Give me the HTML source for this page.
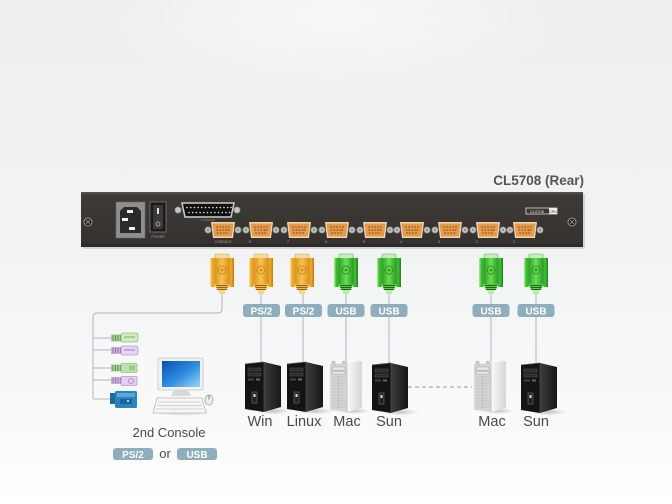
<!DOCTYPE html>
<html><head><meta charset="utf-8"><style>
html,body{margin:0;padding:0;background:#fff;}
svg{display:block;}
text{font-family:"Liberation Sans",sans-serif;}
</style></head><body>
<svg width="672" height="504" viewBox="0 0 672 504" xmlns="http://www.w3.org/2000/svg">
<defs>
  <linearGradient id="bg" x1="0" y1="0" x2="0" y2="1">
    <stop offset="0" stop-color="#eceef0"/>
    <stop offset="0.5" stop-color="#f2f3f4"/>
    <stop offset="0.8" stop-color="#f9f9fa"/>
    <stop offset="1" stop-color="#ffffff"/>
  </linearGradient>
  <radialGradient id="glow" cx="0.5" cy="0.1" r="0.5">
    <stop offset="0" stop-color="#f6f7f8"/>
    <stop offset="1" stop-color="#f6f7f8" stop-opacity="0"/>
  </radialGradient>
  <linearGradient id="panel" x1="0" y1="0" x2="0" y2="1">
    <stop offset="0" stop-color="#5a5654"/>
    <stop offset="0.06" stop-color="#3e3a38"/>
    <stop offset="0.9" stop-color="#363230"/>
    <stop offset="1" stop-color="#2a2725"/>
  </linearGradient>
  <linearGradient id="og" x1="0" y1="0" x2="1" y2="0">
    <stop offset="0" stop-color="#d9931d"/>
    <stop offset="0.5" stop-color="#f7c450"/>
    <stop offset="1" stop-color="#d58e1a"/>
  </linearGradient>
  <linearGradient id="gg" x1="0" y1="0" x2="1" y2="0">
    <stop offset="0" stop-color="#2c9e26"/>
    <stop offset="0.5" stop-color="#6bdc55"/>
    <stop offset="1" stop-color="#2a9a24"/>
  </linearGradient>
  <linearGradient id="side" x1="0" y1="0" x2="1" y2="0">
    <stop offset="0" stop-color="#3c3c3c"/>
    <stop offset="1" stop-color="#161616"/>
  </linearGradient>
  <linearGradient id="macside" x1="0" y1="0" x2="1" y2="0">
    <stop offset="0" stop-color="#fafafa"/>
    <stop offset="1" stop-color="#d6d6d6"/>
  </linearGradient>
  <linearGradient id="scr" x1="0" y1="0" x2="1" y2="1">
    <stop offset="0" stop-color="#0b4fb5"/>
    <stop offset="0.55" stop-color="#2f8fe0"/>
    <stop offset="1" stop-color="#9ad6f6"/>
  </linearGradient>
  <radialGradient id="shad" cx="0.5" cy="0.5" r="0.5">
    <stop offset="0" stop-color="#000" stop-opacity="0.22"/>
    <stop offset="1" stop-color="#000" stop-opacity="0"/>
  </radialGradient>

  <!-- orange connector -->
  <g id="conO">
    <rect x="-7" y="0" width="14" height="5" rx="1" fill="#f5dc9a" stroke="#d8a440" stroke-width="0.6"/>
    <rect x="-12" y="4" width="5" height="29" rx="1.5" fill="#e8a52c"/>
    <rect x="7" y="4" width="5" height="29" rx="1.5" fill="#e8a52c"/>
    <rect x="-12" y="4" width="1.5" height="29" fill="#f9d680"/>
    <rect x="10.5" y="4" width="1.5" height="29" fill="#c98312"/>
    <rect x="-7.5" y="4" width="15" height="26" fill="url(#og)"/>
    <circle cx="0" cy="16" r="4" fill="none" stroke="#d48a18" stroke-width="1"/>
    <circle cx="0" cy="16" r="1.3" fill="#d48a18"/>
    <polygon points="-7.5,30 7.5,30 5,36 -5,36" fill="#f2bb45"/>
    <line x1="-6" y1="31.5" x2="6" y2="31.5" stroke="#8a5a10" stroke-width="0.9"/>
    <line x1="-5.5" y1="33.5" x2="5.5" y2="33.5" stroke="#8a5a10" stroke-width="0.9"/>
    <line x1="-5" y1="35.5" x2="5" y2="35.5" stroke="#8a5a10" stroke-width="0.9"/>
    <rect x="-3" y="36" width="6" height="4" fill="#f5d690"/>
  </g>
  <!-- green connector -->
  <g id="conG">
    <rect x="-7" y="0" width="14" height="5" rx="1" fill="#c6efb5" stroke="#5cb84a" stroke-width="0.6"/>
    <rect x="-12" y="4" width="5" height="29" rx="1.5" fill="#3cb832"/>
    <rect x="7" y="4" width="5" height="29" rx="1.5" fill="#3cb832"/>
    <rect x="-12" y="4" width="1.5" height="29" fill="#8fe878"/>
    <rect x="10.5" y="4" width="1.5" height="29" fill="#228a1e"/>
    <rect x="-7.5" y="4" width="15" height="26" fill="url(#gg)"/>
    <circle cx="0" cy="16" r="4" fill="none" stroke="#2a9a24" stroke-width="1"/>
    <circle cx="0" cy="16" r="1.3" fill="#2a9a24"/>
    <polygon points="-7.5,30 7.5,30 5,36 -5,36" fill="#55cc44"/>
    <line x1="-6" y1="31.5" x2="6" y2="31.5" stroke="#1a5a14" stroke-width="0.9"/>
    <line x1="-5.5" y1="33.5" x2="5.5" y2="33.5" stroke="#1a5a14" stroke-width="0.9"/>
    <line x1="-5" y1="35.5" x2="5" y2="35.5" stroke="#1a5a14" stroke-width="0.9"/>
    <rect x="-3" y="36" width="6" height="4" fill="#b8eca8"/>
  </g>

  <!-- VGA port on panel -->
  <g id="port">
    <circle cx="-15" cy="7" r="3.2" fill="#c4c4c4" stroke="#7a7a7a" stroke-width="0.7"/>
    <circle cx="-15" cy="7" r="1.2" fill="#8a8a8a"/>
    <circle cx="15" cy="7" r="3.2" fill="#c4c4c4" stroke="#7a7a7a" stroke-width="0.7"/>
    <circle cx="15" cy="7" r="1.2" fill="#8a8a8a"/>
    <polygon points="-12,-1 12,-1 10,15 -10,15" fill="#f0d6ac"/>
    <polygon points="-10.5,0.5 10.5,0.5 8.8,13.5 -8.8,13.5" fill="#e29a4c"/>
    <g fill="#a75c18">
      <circle cx="-6" cy="4" r="0.9"/><circle cx="-3" cy="4" r="0.9"/><circle cx="0" cy="4" r="0.9"/><circle cx="3" cy="4" r="0.9"/><circle cx="6" cy="4" r="0.9"/>
      <circle cx="-5.5" cy="7" r="0.9"/><circle cx="-2.5" cy="7" r="0.9"/><circle cx="0.5" cy="7" r="0.9"/><circle cx="3.5" cy="7" r="0.9"/><circle cx="5.5" cy="7" r="0.9"/>
      <circle cx="-5" cy="10" r="0.9"/><circle cx="-2" cy="10" r="0.9"/><circle cx="1" cy="10" r="0.9"/><circle cx="4" cy="10" r="0.9"/>
    </g>
  </g>

  <!-- black tower -->
  <g id="tb">
    <ellipse cx="28" cy="50" rx="18" ry="3.5" fill="url(#shad)"/>
    <polygon points="19,1 36,5 36,46 19,51" fill="url(#side)"/>
    <polygon points="0,3 19,1 19,51 0,48" fill="#141414"/>
    <line x1="19" y1="1" x2="19" y2="51" stroke="#4a4a4a" stroke-width="0.8"/>
    <line x1="0" y1="3" x2="19" y2="1" stroke="#555" stroke-width="0.8"/>
    <rect x="3" y="7" width="13" height="3" fill="#2a2a2a" stroke="#5a5a5a" stroke-width="0.5"/>
    <rect x="3" y="12" width="13" height="3" fill="#2a2a2a" stroke="#5a5a5a" stroke-width="0.5"/>
    <rect x="3" y="17.5" width="6" height="2" fill="#444"/>
    <rect x="11" y="17.5" width="4" height="2" fill="#666"/>
    <rect x="7" y="31" width="5" height="11" fill="#222" stroke="#666" stroke-width="0.7"/>
    <rect x="8.5" y="33" width="2" height="3" fill="#ddd"/>
  </g>
  <!-- silver mac tower -->
  <g id="tm">
    <ellipse cx="24" cy="50" rx="16" ry="3" fill="url(#shad)"/>
    <polygon points="17,2 32,0 32,47 17,51" fill="url(#macside)"/>
    <polygon points="0,3 17,2 17,51 0,49" fill="#d6d6d6"/>
    <rect x="1.5" y="0" width="4" height="4" fill="#c8c8c8"/>
    <rect x="12" y="0" width="4" height="3" fill="#c8c8c8"/>
    <rect x="2" y="6" width="13" height="3" fill="#efefef" stroke="#9a9a9a" stroke-width="0.5"/>
    <rect x="2" y="10.5" width="13" height="2.5" fill="#efefef" stroke="#9a9a9a" stroke-width="0.5"/>
    <g stroke="#b4b4b4" stroke-width="0.6">
      <line x1="2" y1="16" x2="15" y2="16"/><line x1="2" y1="19" x2="15" y2="19"/>
      <line x1="2" y1="22" x2="15" y2="22"/><line x1="2" y1="25" x2="15" y2="25"/>
      <line x1="2" y1="28" x2="15" y2="28"/><line x1="2" y1="31" x2="15" y2="31"/>
      <line x1="2" y1="34" x2="15" y2="34"/><line x1="2" y1="37" x2="15" y2="37"/>
      <line x1="2" y1="40" x2="15" y2="40"/><line x1="2" y1="43" x2="15" y2="43"/>
      <line x1="2" y1="46" x2="15" y2="46"/>
      <line x1="8.5" y1="15" x2="8.5" y2="48"/>
    </g>
    <line x1="17" y1="2" x2="17" y2="51" stroke="#aaa" stroke-width="0.6"/>
  </g>
</defs>

<!-- background -->
<rect x="0" y="0" width="672" height="504" fill="url(#bg)"/>
<rect x="100" y="0" width="470" height="160" fill="url(#glow)"/>

<!-- title -->
<text x="584" y="185" font-size="13.5" font-weight="bold" fill="#555" text-anchor="end">CL5708 (Rear)</text>

<!-- panel -->
<rect x="83" y="194" width="502" height="55" fill="#000" opacity="0.12"/>
<rect x="81" y="192" width="502" height="55" fill="url(#panel)"/>
<!-- screws -->
<circle cx="88" cy="222" r="4" fill="#1c1c1c" stroke="#9a9a9a" stroke-width="1"/>
<path d="M86 220 L90 224 M90 220 L86 224" stroke="#aaa" stroke-width="0.8"/>
<circle cx="572" cy="222" r="4" fill="#1c1c1c" stroke="#9a9a9a" stroke-width="1"/>
<path d="M570 220 L574 224 M574 220 L570 224" stroke="#aaa" stroke-width="0.8"/>
<!-- power inlet -->
<rect x="116" y="202" width="29" height="36" fill="#8e8e8e" stroke="#6a6a6a" stroke-width="0.6"/>
<polygon points="124,207 137,207 141,211 141,233 120,233 120,211" fill="#2a2a2a"/>
<rect x="127" y="210" width="6" height="3" fill="#f0f0f0"/>
<rect x="122" y="218" width="6" height="3" fill="#f0f0f0"/>
<rect x="129" y="227" width="6" height="3" fill="#f0f0f0"/>
<!-- switch -->
<rect x="150" y="202" width="16" height="30" fill="#1a1a1a" stroke="#7a7a7a" stroke-width="0.8"/>
<rect x="153" y="205" width="10" height="24" fill="#3a3a3a"/>
<rect x="157" y="208" width="2" height="6" fill="#ddd"/>
<circle cx="158" cy="224" r="2" fill="none" stroke="#ccc" stroke-width="0.7"/>
<text x="158" y="238" font-size="3.5" fill="#999" text-anchor="middle">POWER</text>
<!-- DB25 -->
<circle cx="178" cy="210" r="3.2" fill="#c4c4c4" stroke="#7a7a7a" stroke-width="0.7"/>
<circle cx="237" cy="210" r="3.2" fill="#c4c4c4" stroke="#7a7a7a" stroke-width="0.7"/>
<polygon points="182,203 234,203 231,217 185,217" fill="#111" stroke="#cfcfcf" stroke-width="1.5"/>
<g fill="#e8e8e8">
  <circle cx="187" cy="207.5" r="0.8"/><circle cx="190.7" cy="207.5" r="0.8"/><circle cx="194.4" cy="207.5" r="0.8"/><circle cx="198.1" cy="207.5" r="0.8"/><circle cx="201.8" cy="207.5" r="0.8"/><circle cx="205.5" cy="207.5" r="0.8"/><circle cx="209.2" cy="207.5" r="0.8"/><circle cx="212.9" cy="207.5" r="0.8"/><circle cx="216.6" cy="207.5" r="0.8"/><circle cx="220.3" cy="207.5" r="0.8"/><circle cx="224" cy="207.5" r="0.8"/><circle cx="227.7" cy="207.5" r="0.8"/><circle cx="231" cy="207.5" r="0.8"/>
  <circle cx="189" cy="212.5" r="0.8"/><circle cx="192.7" cy="212.5" r="0.8"/><circle cx="196.4" cy="212.5" r="0.8"/><circle cx="200.1" cy="212.5" r="0.8"/><circle cx="203.8" cy="212.5" r="0.8"/><circle cx="207.5" cy="212.5" r="0.8"/><circle cx="211.2" cy="212.5" r="0.8"/><circle cx="214.9" cy="212.5" r="0.8"/><circle cx="218.6" cy="212.5" r="0.8"/><circle cx="222.3" cy="212.5" r="0.8"/><circle cx="226" cy="212.5" r="0.8"/><circle cx="229.5" cy="212.5" r="0.8"/>
</g>
<text x="208" y="221" font-size="3" fill="#888" text-anchor="middle">CASCADE</text>
<!-- ports -->
<use href="#port" x="223" y="223"/>
<use href="#port" x="261" y="223"/>
<use href="#port" x="299" y="223"/>
<use href="#port" x="337" y="223"/>
<use href="#port" x="375" y="223"/>
<use href="#port" x="412" y="223"/>
<use href="#port" x="450" y="223"/>
<use href="#port" x="488" y="223"/>
<use href="#port" x="525" y="223"/>
<g font-size="3.5" fill="#aaa" text-anchor="middle">
  <text x="223" y="243">CONSOLE</text>
  <text x="250" y="243">8</text><text x="288" y="243">7</text><text x="326" y="243">6</text><text x="364" y="243">5</text>
  <text x="401" y="243">4</text><text x="439" y="243">3</text><text x="477" y="243">2</text><text x="514" y="243">1</text>
</g>
<!-- CPU label -->
<rect x="526" y="208" width="31" height="6" fill="none" stroke="#ddd" stroke-width="0.8"/>
<rect x="549" y="208" width="8" height="6" fill="#eee"/>
<text x="537" y="213" font-size="4" fill="#ddd" text-anchor="middle">CL5708</text>
<text x="553" y="213" font-size="3.6" fill="#333" text-anchor="middle">CPU</text>

<!-- connector lines -->
<g stroke="#aeb6ba" stroke-width="1" fill="none">
  <path d="M222 294 V309 Q222 313 218 313 H97 Q93 313 93 317 V399"/>
  <line x1="93" y1="338" x2="112" y2="338"/>
  <line x1="93" y1="350" x2="112" y2="350"/>
  <line x1="93" y1="368" x2="112" y2="368"/>
  <line x1="93" y1="380" x2="112" y2="380"/>
  <line x1="93" y1="399" x2="110" y2="399"/>
  <line x1="261" y1="294" x2="261" y2="363"/>
  <line x1="303" y1="294" x2="303" y2="363"/>
  <line x1="346" y1="294" x2="346" y2="363"/>
  <line x1="389" y1="294" x2="389" y2="363"/>
  <line x1="491" y1="294" x2="491" y2="362"/>
  <line x1="536" y1="294" x2="536" y2="363"/>
</g>
<line x1="408" y1="387" x2="472" y2="387" stroke="#999" stroke-width="1" stroke-dasharray="4,3"/>

<!-- connectors -->
<use href="#conO" x="222" y="254"/>
<use href="#conO" x="261" y="254"/>
<use href="#conO" x="302" y="254"/>
<use href="#conG" x="346" y="254"/>
<use href="#conG" x="389" y="254"/>
<use href="#conG" x="491" y="254"/>
<use href="#conG" x="536" y="254"/>

<!-- labels -->
<g font-size="10" font-weight="bold" fill="#fff" text-anchor="middle">
  <rect x="243" y="304" width="37" height="13" rx="3" fill="#8eaebd"/>
  <text x="261.5" y="314.5">PS/2</text>
  <rect x="285" y="304" width="37" height="13" rx="3" fill="#8eaebd"/>
  <text x="303.5" y="314.5">PS/2</text>
  <rect x="327.5" y="304" width="37" height="13" rx="3" fill="#8eaebd"/>
  <text x="346" y="314.5">USB</text>
  <rect x="370.5" y="304" width="37" height="13" rx="3" fill="#8eaebd"/>
  <text x="389" y="314.5">USB</text>
  <rect x="472.5" y="304" width="37" height="13" rx="3" fill="#8eaebd"/>
  <text x="491" y="314.5">USB</text>
  <rect x="517.5" y="304" width="37" height="13" rx="3" fill="#8eaebd"/>
  <text x="536" y="314.5">USB</text>
</g>

<!-- towers -->
<use href="#tb" x="245" y="361"/>
<use href="#tb" x="287" y="361"/>
<use href="#tm" x="330" y="361"/>
<use href="#tb" x="372" y="362"/>
<use href="#tm" x="474" y="361"/>
<use href="#tb" x="521" y="362"/>

<g font-size="14.5" fill="#4a4a4a" text-anchor="middle">
  <text x="260" y="426">Win</text>
  <text x="304" y="426">Linux</text>
  <text x="347" y="426">Mac</text>
  <text x="389" y="426">Sun</text>
  <text x="492" y="426">Mac</text>
  <text x="536" y="426">Sun</text>
</g>

<!-- 2nd console plugs -->
<g>
  <rect x="111" y="334.5" width="11" height="7" fill="#a6d096"/>
  <g stroke="#4e8a40" stroke-width="0.8"><line x1="113" y1="335" x2="113" y2="341"/><line x1="115.5" y1="335" x2="115.5" y2="341"/><line x1="118" y1="335" x2="118" y2="341"/><line x1="120.5" y1="335" x2="120.5" y2="341"/></g>
  <rect x="121" y="333" width="17" height="9" rx="2" fill="#cfe9c3" stroke="#8cc67c" stroke-width="0.8"/>
  <rect x="124" y="336" width="11" height="2" fill="#9fd28e"/>

  <rect x="111" y="347" width="11" height="7" fill="#cdb4e0"/>
  <g stroke="#8a62a8" stroke-width="0.8"><line x1="113" y1="347.5" x2="113" y2="353.5"/><line x1="115.5" y1="347.5" x2="115.5" y2="353.5"/><line x1="118" y1="347.5" x2="118" y2="353.5"/><line x1="120.5" y1="347.5" x2="120.5" y2="353.5"/></g>
  <rect x="121" y="346" width="17" height="9" rx="2" fill="#e6d6ef" stroke="#b896d0" stroke-width="0.8"/>
  <rect x="124" y="349" width="11" height="2" fill="#c8a8dc"/>

  <rect x="111" y="364.5" width="11" height="7" fill="#a6d096"/>
  <g stroke="#4e8a40" stroke-width="0.8"><line x1="113" y1="365" x2="113" y2="371"/><line x1="115.5" y1="365" x2="115.5" y2="371"/><line x1="118" y1="365" x2="118" y2="371"/><line x1="120.5" y1="365" x2="120.5" y2="371"/></g>
  <rect x="121" y="363.5" width="16" height="9" rx="1.5" fill="#c3e2b4" stroke="#8cc67c" stroke-width="0.8"/>
  <rect x="129" y="365.5" width="6" height="5" fill="#98cc86"/>

  <rect x="111" y="377" width="11" height="7" fill="#cdb4e0"/>
  <g stroke="#8a62a8" stroke-width="0.8"><line x1="113" y1="377.5" x2="113" y2="383.5"/><line x1="115.5" y1="377.5" x2="115.5" y2="383.5"/><line x1="118" y1="377.5" x2="118" y2="383.5"/><line x1="120.5" y1="377.5" x2="120.5" y2="383.5"/></g>
  <rect x="121" y="376.5" width="16" height="9" rx="1.5" fill="#e2d0ee" stroke="#b896d0" stroke-width="0.8"/>
  <circle cx="131" cy="381" r="2.5" fill="none" stroke="#a880c4" stroke-width="0.8"/>

  <rect x="110" y="393" width="6" height="11" fill="#1d6a9e"/>
  <rect x="115" y="391" width="22" height="17" rx="1.5" fill="#2b83bd"/>
  <rect x="117" y="393" width="18" height="4" fill="#5aa8d8"/>
  <rect x="120" y="399" width="12" height="5" fill="#1a6495"/>
  <circle cx="128" cy="401" r="1" fill="#d8ecf8"/>
</g>

<!-- monitor -->
<ellipse cx="182" cy="412" rx="30" ry="4" fill="url(#shad)"/>
<rect x="158" y="358" width="45" height="32" rx="1.5" fill="#f2f2f2" stroke="#c8c8c8" stroke-width="0.8"/>
<rect x="162" y="361" width="38" height="26" fill="url(#scr)"/>
<polygon points="174,390 188,390 191,396 171,396" fill="#d8d8d8"/>
<polygon points="157,398 202,398 206,413 153,413" fill="#f7f7f7" stroke="#b8b8b8" stroke-width="0.8"/>
<g stroke="#c4c4c4" stroke-width="0.7">
  <line x1="158" y1="402" x2="201" y2="402"/>
  <line x1="157" y1="405.5" x2="202" y2="405.5"/>
  <line x1="156" y1="409" x2="203" y2="409"/>
</g>
<ellipse cx="209" cy="400" rx="4" ry="5" fill="#ededed" stroke="#999" stroke-width="0.7"/>
<line x1="209" y1="395.5" x2="209" y2="399.5" stroke="#666" stroke-width="0.8"/>

<!-- 2nd console text -->
<text x="169" y="437" font-size="13" fill="#4a4a4a" text-anchor="middle">2nd Console</text>
<rect x="113" y="448" width="40" height="12" rx="3" fill="#8eaebd"/>
<text x="133" y="458" font-size="10" font-weight="bold" fill="#fff" text-anchor="middle">PS/2</text>
<text x="165" y="458" font-size="13" fill="#4a4a4a" text-anchor="middle">or</text>
<rect x="177" y="448" width="40" height="12" rx="3" fill="#8eaebd"/>
<text x="197" y="458" font-size="10" font-weight="bold" fill="#fff" text-anchor="middle">USB</text>
</svg>
</body></html>
